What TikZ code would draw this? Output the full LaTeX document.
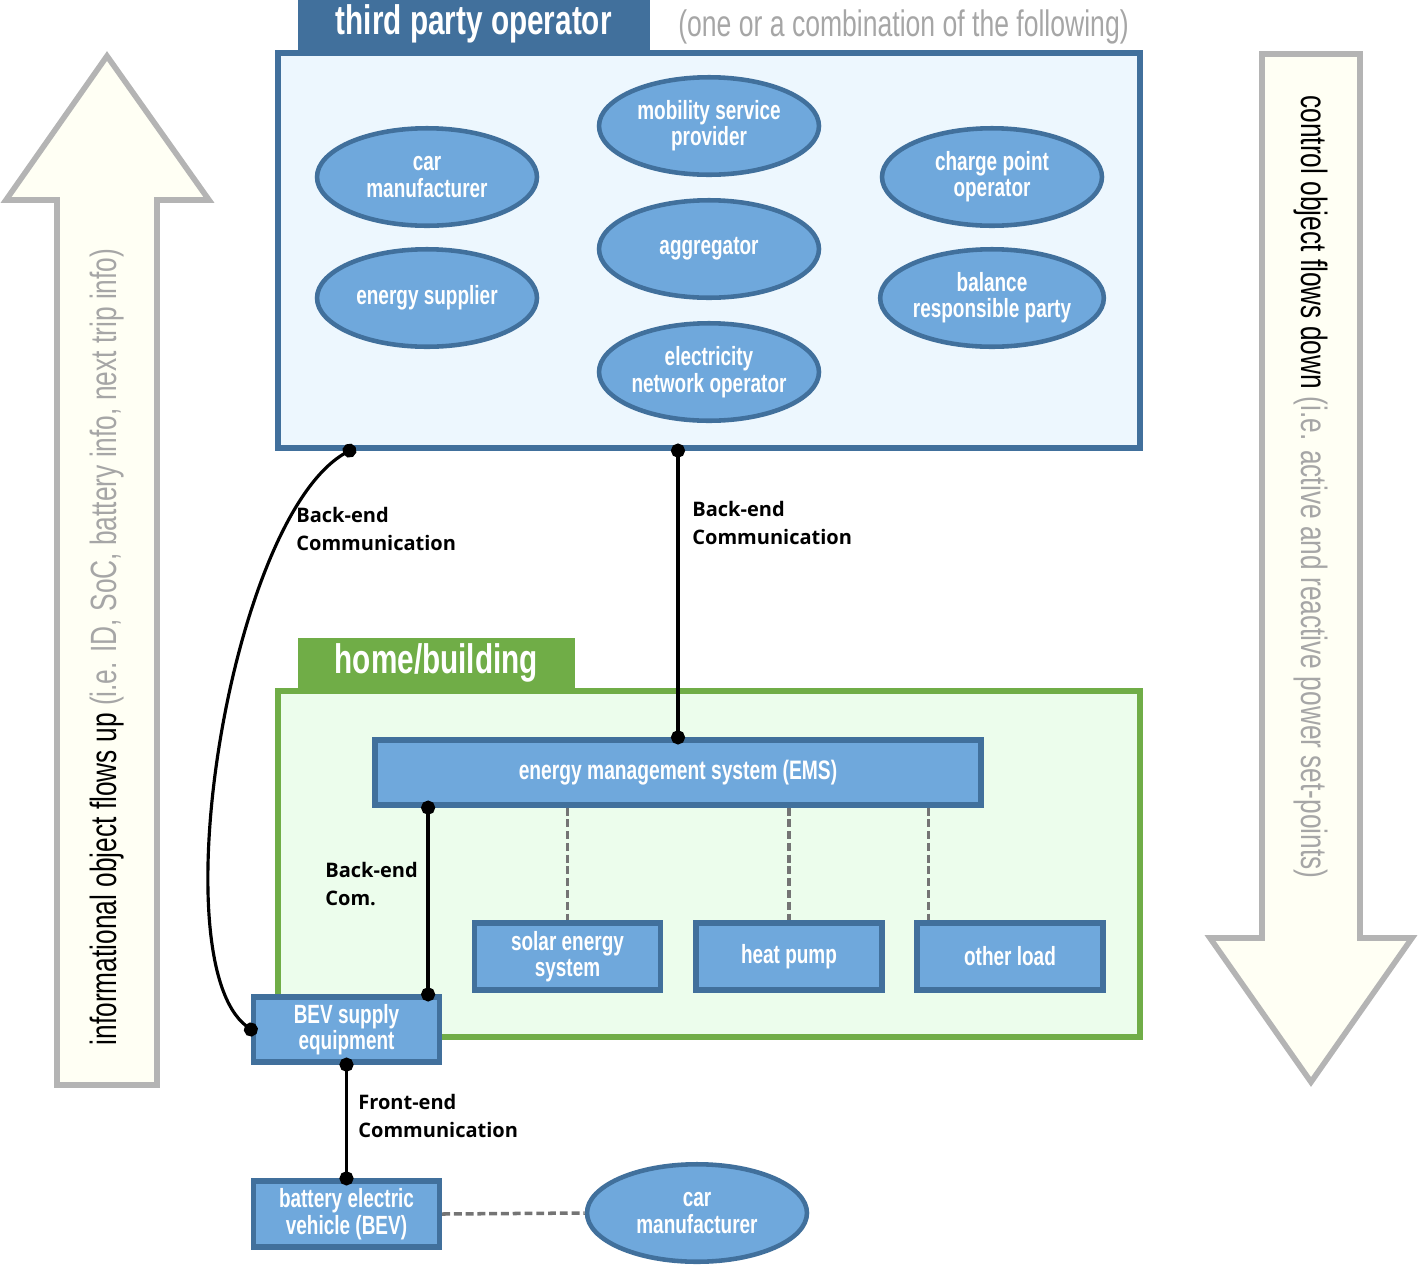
\documentclass[tikz,border=0pt]{standalone}
\usepackage{fontspec}
\usepackage{xcolor}
\usepackage{tikz}
\usetikzlibrary{shapes,arrows.meta,positioning,calc}

\setmainfont{Liberation Sans}
\newfontfamily\condf[FakeStretch=0.72]{Liberation Sans}
\newfontfamily\labf{Open Sans}

\definecolor{tpoblue}{HTML}{41709C}
\definecolor{ellfill}{HTML}{6FA8DC}
\definecolor{tpofill}{HTML}{EDF7FE}
\definecolor{homegreen}{HTML}{70AD47}
\definecolor{homefill}{HTML}{ECFDEC}
\definecolor{flowfill}{HTML}{FFFFF4}
\definecolor{flowgray}{HTML}{B4B4B4}
\definecolor{notegray}{HTML}{A6A6A6}
\definecolor{dashgray}{HTML}{747474}

\begin{document}
\begin{tikzpicture}[x=0.02cm, y=-0.02cm,
        actor/.style={ellipse, draw=tpoblue, line width=2.6pt, fill=ellfill, minimum width=4.4cm, minimum height=1.95cm, inner sep=0pt, align=center, text=white, font=\condf\bfseries\fontsize{15}{15}\selectfont},
        device/.style={rectangle, draw=tpoblue, line width=3pt, fill=ellfill, minimum width=3.72cm, minimum height=1.26cm, inner sep=0pt, align=center, text=white, font=\condf\bfseries\fontsize{15}{15}\selectfont},
        container/.style={rectangle, line width=3pt, inner sep=0pt},
        tab/.style={rectangle, inner sep=0pt, text=white, font=\condf\bfseries\fontsize{23.5}{24}\selectfont},
        flow/.style={draw=flowgray, line width=3.2pt, fill=flowfill, line join=miter},
        flowtext/.style={inner sep=0pt, font=\condf\fontsize{20.8}{22}\selectfont},
        commlabel/.style={inner sep=0pt, anchor=north west, align=left, font=\labf\bfseries\fontsize{11.4}{16}\selectfont},
        conn/.style={line width=2.2pt, {Circle[length=8pt]}-{Circle[length=8pt]}, shorten <=-4pt, shorten >=-4pt},
        assoc/.style={draw=dashgray, line width=2pt, dash pattern=on 4.5pt off 2.2pt}
    ]
    \useasboundingbox (0,0) rectangle (1418,1269);

    % === flow arrows (left: up, right: down) ===
    \draw[flow] (57,1085) -- (57,200) -- (6,200) -- (107,56) -- (209,200) -- (157,200) -- (157,1085) -- cycle;
    \node[flowtext, rotate=90] (infoup) at (107,647) {informational object flows up \textcolor{notegray}{(i.e. ID, SoC, battery info, next trip info)}};

    \draw[flow] (1262,54) -- (1262,938) -- (1210,938) -- (1311,1082) -- (1412,938) -- (1360,938) -- (1360,54) -- cycle;
    \node[flowtext, rotate=-90] (ctrldown) at (1311,487) {control object flows down \textcolor{notegray}{(i.e. active and reactive power set-points)}};

    % === third party operator ===
    \node[container, draw=tpoblue, fill=tpofill, minimum width=17.24cm, minimum height=7.9cm] (tpo) at (709,250.5) {};
    \node[tab, fill=tpoblue, minimum width=7.04cm, minimum height=1.04cm, anchor=south west] (tpotab) at ($(tpo.north west)+(22,0)$) {third party operator};
    \node[anchor=west, inner sep=0pt, text=notegray, font=\condf\fontsize{21}{22}\selectfont] (tponote) at (678,27) {(one or a combination of the following)};

    \node[actor] (carman) at (427,177) {car\\manufacturer};
    \node[actor] (supplier) at (427,298) {energy supplier};
    \node[actor] (msp) at (709,126) {mobility service\\provider};
    \node[actor] (aggr) at (709,249) {aggregator};
    \node[actor] (dso) at (709,372) {electricity\\network operator};
    \node[actor] (cpo) at (992,177) {charge point\\operator};
    \node[actor] (brp) at (992,298) {balance\\responsible party};

    % === home/building ===
    \node[container, draw=homegreen, fill=homefill, minimum width=17.24cm, minimum height=6.92cm] (home) at (709,864) {};
    \node[tab, fill=homegreen, minimum width=5.54cm, minimum height=1.0cm, anchor=south west] (hometab) at ($(home.north west)+(22,0)$) {home/building};

    \node[device, minimum width=12.12cm, minimum height=1.3cm, font=\condf\bfseries\fontsize{15.2}{15}\selectfont] (ems) at (678,772.5) {energy management system (EMS)};
    \node[device, minimum height=1.34cm] (solar) at (567.5,956.5) {solar energy\\system};
    \node[device, minimum height=1.34cm] (hp) at (789,956.5) {heat pump};
    \node[device, minimum height=1.34cm] (load) at (1010,956.5) {other load};

    \node[device, minimum height=1.3cm] (bevse) at (346.5,1029.5) {BEV supply\\equipment};
    \node[device, minimum height=1.32cm] (bev) at (346.5,1214) {battery electric\\vehicle (BEV)};
    \node[actor] (carman2) at (697,1213) {car\\manufacturer};

    % === connectors ===
    \draw[assoc] (ems.south -| solar.north) -- (solar.north);
    \draw[assoc] (ems.south -| hp.north) -- (hp.north);
    \coordinate (loadtop) at ($(load.north west)+(14,0)$);
    \draw[assoc] (ems.south -| loadtop) -- (loadtop);
    \draw[assoc] (bev.east) -- (carman2.west);

    \coordinate (tpoleft) at ($(tpo.south west)+(74,0)$);
    \coordinate (bevsetop) at ($(bevse.north east)+(-14,0)$);
    \draw[conn, line width=1.8pt] (tpoleft) .. controls (230,520) and (160,960) .. (bevse.west);
    \draw[conn] (tpo.south -| ems.north) -- (ems.north);
    \draw[conn] (bevsetop |- ems.south) -- (bevsetop);
    \draw[conn] (bevse.south) -- (bev.north);

    % labels
    \node[commlabel] (lblleft) at (296,507) {Back-end\\Communication};
    \node[commlabel] (lblems) at (692,501) {Back-end\\Communication};
    \node[commlabel] (lblse) at (325,862) {Back-end\\Com.};
    \node[commlabel] (lblfront) at (358,1094) {Front-end\\Communication};

\end{tikzpicture}
\end{document}
